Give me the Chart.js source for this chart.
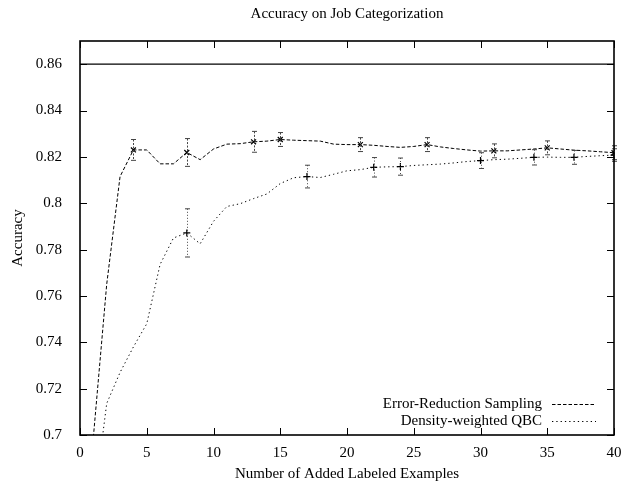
<!DOCTYPE html>
<html>
<head>
<meta charset="utf-8">
<script src="https://cdn.jsdelivr.net/npm/chart.js@4.4.0/dist/chart.umd.min.js"></script>
<style>
  html, body { margin: 0; padding: 0; background: #fff; }
</style>
</head>
<body>
<canvas id="chartAccuracy" width="623" height="483"></canvas>
<script>
const xValues = [1, 2, 3, 4, 5, 6, 7, 8, 9, 10, 11, 12, 13, 14, 15, 16, 17, 18, 19, 20,
                 21, 22, 23, 24, 25, 26, 27, 28, 29, 30, 31, 32, 33, 34, 35, 36, 37, 38, 39, 40];

const errorReduction = [0.699, 0.765, 0.8115, 0.823, 0.823, 0.817, 0.817, 0.8219, 0.8188, 0.8234,
                        0.8255, 0.8257, 0.8265, 0.8268, 0.8275, 0.8272, 0.827, 0.8268, 0.8255, 0.8253,
                        0.8253, 0.825, 0.8245, 0.8241, 0.8245, 0.8253, 0.8243, 0.8236, 0.823, 0.8225,
                        0.8226, 0.8226, 0.823, 0.8234, 0.8239, 0.8234, 0.8229, 0.8226, 0.8222, 0.8218];

const densityQBC = [0.668, 0.7136, 0.727, 0.738, 0.748, 0.7736, 0.785, 0.7872, 0.7825, 0.7922,
                    0.7986, 0.7998, 0.802, 0.804, 0.8085, 0.811, 0.8115, 0.8111, 0.8125, 0.814,
                    0.8145, 0.8155, 0.8157, 0.8158, 0.8163, 0.8166, 0.8169, 0.8174, 0.818, 0.8184,
                    0.8188, 0.819, 0.8194, 0.8198, 0.8199, 0.8198, 0.8198, 0.8202, 0.8205, 0.8208];

const upperBound = 0.86;

// error bar points
const erBarX = [4, 8, 13, 15, 21, 26, 31, 35, 40];
const erBarY = [0.823, 0.8219, 0.8265, 0.8275, 0.8253, 0.8253, 0.8226, 0.8239, 0.8218];
const erBarErr = [0.0045, 0.006, 0.0045, 0.003, 0.003, 0.003, 0.003, 0.003, 0.003];

const qbcBarX = [8, 17, 22, 24, 30, 34, 37, 40];
const qbcBarY = [0.7872, 0.8115, 0.8155, 0.8158, 0.8184, 0.8198, 0.8198, 0.8208];
const qbcBarErr = [0.0104, 0.0049, 0.0042, 0.0037, 0.0034, 0.0033, 0.003, 0.0027];

const xTicks = [0, 5, 10, 15, 20, 25, 30, 35, 40];
const yTicks = [0.7, 0.72, 0.74, 0.76, 0.78, 0.8, 0.82, 0.84, 0.86];

const FONT = "'Liberation Serif', 'DejaVu Serif', serif";
const DASH_ER = [3.5, 2];
const DASH_QBC = [1.3, 3];

function pts(xs, ys) {
  return xs.map((x, i) => ({ x: x, y: ys[i] }));
}

// gnuplot style frame with inward ticks on all sides
const framePlugin = {
  id: 'frame',
  afterDraw(chart) {
    const { ctx, chartArea: a, scales } = chart;
    ctx.save();
    ctx.strokeStyle = '#000';
    ctx.lineWidth = 1;
    ctx.beginPath();
    xTicks.forEach(v => {
      const px = Math.round(scales.x.getPixelForValue(v)) + 0.5;
      ctx.moveTo(px, a.bottom); ctx.lineTo(px, a.bottom - 7);
      ctx.moveTo(px, a.top); ctx.lineTo(px, a.top + 7);
    });
    yTicks.forEach(v => {
      const py = Math.round(scales.y.getPixelForValue(v)) + 0.5;
      ctx.moveTo(a.left, py); ctx.lineTo(a.left + 7, py);
      ctx.moveTo(a.right, py); ctx.lineTo(a.right - 7, py);
    });
    ctx.stroke();
    ctx.lineWidth = 1.6;
    ctx.strokeRect(a.left, a.top, a.right - a.left, a.bottom - a.top);
    ctx.restore();
  }
};

// vertical error bars with small caps
const errorBarPlugin = {
  id: 'errorBars',
  afterDatasetsDraw(chart) {
    const { ctx, scales } = chart;
    const sets = [
      { xs: erBarX, ys: erBarY, es: erBarErr, dash: [2, 1.5] },
      { xs: qbcBarX, ys: qbcBarY, es: qbcBarErr, dash: [1, 2] }
    ];
    ctx.save();
    ctx.strokeStyle = '#444';
    ctx.lineWidth = 1;
    sets.forEach(s => {
      s.xs.forEach((x, i) => {
        const px = Math.round(scales.x.getPixelForValue(x)) + 0.5;
        const top = scales.y.getPixelForValue(s.ys[i] + s.es[i]);
        const bot = scales.y.getPixelForValue(s.ys[i] - s.es[i]);
        ctx.setLineDash(s.dash);
        ctx.beginPath();
        ctx.moveTo(px, top); ctx.lineTo(px, bot);
        ctx.stroke();
        ctx.setLineDash([]);
        ctx.beginPath();
        ctx.moveTo(px - 2.5, top); ctx.lineTo(px + 2.5, top);
        ctx.moveTo(px - 2.5, bot); ctx.lineTo(px + 2.5, bot);
        ctx.stroke();
      });
    });
    ctx.restore();
  }
};

// legend in the lower right corner, text right-aligned, sample on the right
const legendPlugin = {
  id: 'gpLegend',
  afterDraw(chart) {
    const { ctx, chartArea: a } = chart;
    const items = chart.data.datasets.filter(d => d.inLegend);
    ctx.save();
    ctx.font = '15px ' + FONT;
    ctx.fillStyle = '#000';
    ctx.textAlign = 'right';
    ctx.textBaseline = 'middle';
    items.forEach((d, i) => {
      const y = a.bottom - 31 + i * 17;
      ctx.fillText(d.label, a.right - 72, y);
      ctx.strokeStyle = '#000';
      ctx.lineWidth = 1;
      ctx.setLineDash(d.borderDash);
      ctx.beginPath();
      ctx.moveTo(a.right - 62, y + 0.5);
      ctx.lineTo(a.right - 18, y + 0.5);
      ctx.stroke();
    });
    ctx.restore();
  }
};

const ctx = document.getElementById('chartAccuracy').getContext('2d');
const chart = new Chart(ctx, {
  type: 'scatter',
  data: {
    datasets: [
      {
        label: 'Error-Reduction Sampling', inLegend: true,
        data: pts(xValues, errorReduction), showLine: true,
        borderColor: '#000', borderWidth: 1, borderDash: DASH_ER,
        pointRadius: 0, tension: 0
      },
      {
        label: 'Density-weighted QBC', inLegend: true,
        data: pts(xValues, densityQBC), showLine: true,
        borderColor: '#000', borderWidth: 1, borderDash: DASH_QBC,
        pointRadius: 0, tension: 0
      },
      {
        label: 'upper', data: [{ x: 0, y: upperBound }, { x: 40, y: upperBound }],
        showLine: true, borderColor: '#000', borderWidth: 1.2, pointRadius: 0
      },
      {
        label: 'er points', data: pts(erBarX, erBarY),
        pointStyle: 'crossRot', pointRadius: 3.5, borderColor: '#000', borderWidth: 1.2
      },
      {
        label: 'qbc points', data: pts(qbcBarX, qbcBarY),
        pointStyle: 'cross', pointRadius: 3.5, borderColor: '#000', borderWidth: 1.2
      }
    ]
  },
  options: {
    responsive: false,
    animation: false,
    layout: { padding: { left: 0, right: 9, top: 0, bottom: 0 } },
    plugins: {
      legend: { display: false },
      tooltip: { enabled: false },
      title: {
        display: true,
        text: 'Accuracy on Job Categorization',
        fullSize: false,
        color: '#000',
        font: { family: FONT, size: 15, weight: 'normal' },
        padding: { top: 5, bottom: 18 }
      }
    },
    scales: {
      x: {
        type: 'linear', min: 0, max: 40,
        grid: { display: false, drawTicks: false },
        border: { display: false },
        ticks: { stepSize: 5, padding: 9, color: '#000', maxRotation: 0,
                 font: { family: FONT, size: 15 } },
        title: { display: true, text: 'Number of Added Labeled Examples', color: '#000',
                 font: { family: FONT, size: 15 }, padding: { top: 0, bottom: 0 } },
        afterFit(scale) {
          scale.height = 48;
          scale.paddingLeft = 0;
          scale.paddingRight = 0;
        }
      },
      y: {
        type: 'linear', min: 0.7, max: 0.87,
        grid: { display: false, drawTicks: false },
        border: { display: false },
        ticks: { stepSize: 0.02, includeBounds: false, padding: 18, color: '#000',
                 font: { family: FONT, size: 15 },
                 callback: v => String(+v.toFixed(2)) },
        title: { display: true, text: 'Accuracy', color: '#000',
                 font: { family: FONT, size: 15 }, padding: { top: 9, bottom: 0 } },
        afterFit(scale) {
          scale.width = 80;
          scale.paddingTop = 0;
          scale.paddingBottom = 0;
        }
      }
    }
  },
  plugins: [framePlugin, errorBarPlugin, legendPlugin]
});
</script>
</body>
</html>
